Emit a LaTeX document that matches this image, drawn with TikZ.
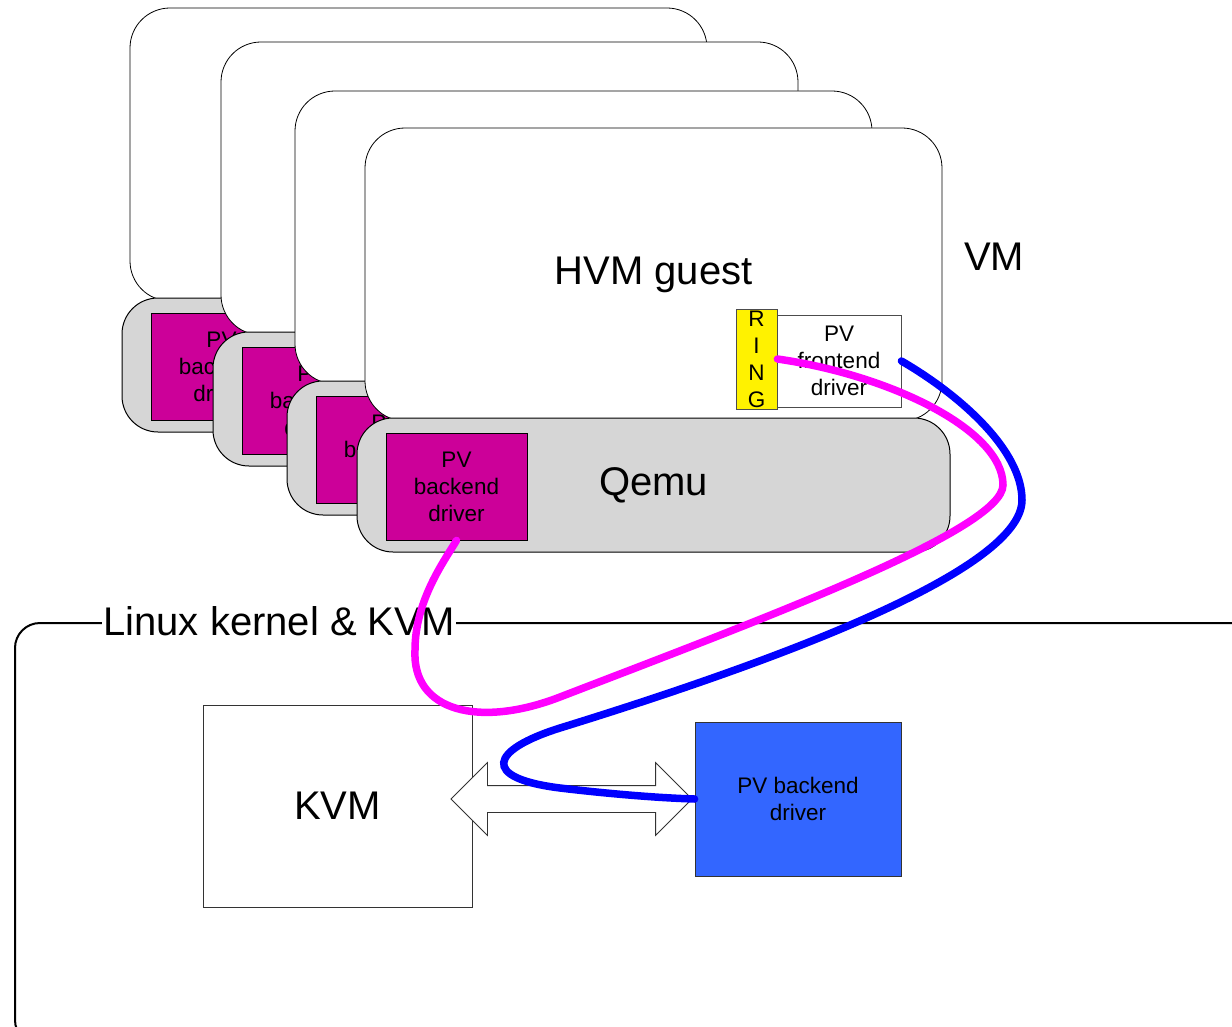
\documentclass[tikz,border=0pt]{standalone}
\usepackage{fontspec}
\setmainfont{Liberation Sans}
\usepackage{xcolor}
\usepackage{tikz}
\usetikzlibrary{shapes.arrows, calc}
\definecolor{bemagenta}{RGB}{204,0,153}
\definecolor{beblue}{RGB}{51,102,255}
\definecolor{qemugray}{RGB}{214,214,214}
\definecolor{linkmag}{RGB}{255,0,255}
\definecolor{linkblue}{RGB}{0,0,255}
\newcommand{\vmfont}{\fontsize{40}{46}\selectfont}
\newcommand{\drvfont}{\fontsize{22.5}{27}\selectfont}
\tikzstyle{guest} = [rectangle, rounded corners=40pt, draw=black, line width=0.8pt, fill=white, minimum width=577pt, minimum height=293pt, inner sep=0pt, font=\vmfont]
\tikzstyle{qemu} = [rectangle, rounded corners=36pt, draw=black, line width=1pt, fill=qemugray, minimum width=593pt, minimum height=134pt, inner sep=0pt, font=\vmfont]
\tikzstyle{pvback} = [rectangle, draw=black, line width=0.8pt, fill=bemagenta, minimum width=141pt, minimum height=107pt, inner sep=0pt, align=center, font=\drvfont]
\tikzstyle{ringbox} = [rectangle, draw=black!70, line width=0.8pt, fill=yellow, minimum width=41pt, minimum height=100pt, inner sep=0pt, align=center, font=\drvfont]
\tikzstyle{pvfront} = [rectangle, draw=black!70, line width=0.8pt, fill=white, minimum width=124pt, minimum height=92pt, inner sep=0pt, align=center, font=\drvfont]
\tikzstyle{kvmbox} = [rectangle, draw=black!80, line width=0.8pt, fill=white, minimum width=269pt, minimum height=202pt, inner sep=0pt, font=\vmfont]
\tikzstyle{kbackend} = [rectangle, draw=black!80, line width=0.8pt, fill=beblue, minimum width=206pt, minimum height=154pt, inner sep=0pt, align=center, font=\drvfont]
\tikzstyle{pvlink} = [line width=7.5pt, line cap=round]

\begin{document}
\begin{tikzpicture}[x=1pt, y=-1pt]
\useasboundingbox (0,0) rectangle (1232,1027);

% stacked VMs, back to front
\node[guest] (guesta) at (418.5,154.5) {};
\node[qemu] (qemua) at (418.5,365) {};
\node[pvback] (bea) at (221.5,366.5) {PV\\backend\\driver};

\node[guest] (guestb) at (509.5,188.5) {};
\node[qemu] (qemub) at (509.5,399) {};
\node[pvback] (beb) at (312.5,400.5) {PV\\backend\\driver};

\node[guest] (guestc) at (583.5,237.5) {};
\node[qemu] (qemuc) at (583.5,448) {};
\node[pvback] (bec) at (386.5,449.5) {PV\\backend\\driver};

\node[guest] (guestd) at (653.5,274.5) {HVM guest};
\node[ringbox] (ring) at (756.5,359) {R\\I\\N\\G};
\node[pvfront] (fe) at (839,361) {PV\\frontend\\driver};
\node[qemu] (qemud) at (653.5,485) {Qemu};
\node[pvback] (bed) at (456.5,486.5) {PV\\backend\\driver};

\node[font=\vmfont] (vmlbl) at (994,257) {VM};

% host side
\node[rectangle, rounded corners=25pt, draw=black, line width=2pt, minimum width=1247pt, minimum height=422pt] (kernel) at (638.5,834) {};
\node[fill=white, inner xsep=1pt, inner ysep=0pt, font=\vmfont] (kernellbl) at (279,621) {Linux kernel \& KVM};

\node[kvmbox] (kvm) at (337.5,806) {KVM};
\node[kbackend] (kbe) at (798,799) {PV backend\\driver};
\node[double arrow, draw=black!80, line width=0.8pt, fill=white, minimum height=241pt, double arrow head extend=23pt, inner xsep=0pt, inner ysep=13pt] (kvmlink) at (571.5,799) {};

% paths between drivers
\draw[pvlink, linkmag] (ring.east) .. controls (890,375) and (1003,430) .. (1003,485)
  .. controls (1003,530) and (760,620) .. (560,697)
  .. controls (480,728) and (412,712) .. (415,650)
  .. controls (415,600) and (445,560) .. (bed.south);
\draw[pvlink, linkblue] (fe.east) .. controls (960,395) and (1022,450) .. (1022,500)
  .. controls (1022,570) and (780,660) .. (560,728)
  .. controls (490,750) and (480,778) .. (560,788)
  .. controls (610,794) and (660,798) .. (kbe.west);
\end{tikzpicture}
\end{document}
